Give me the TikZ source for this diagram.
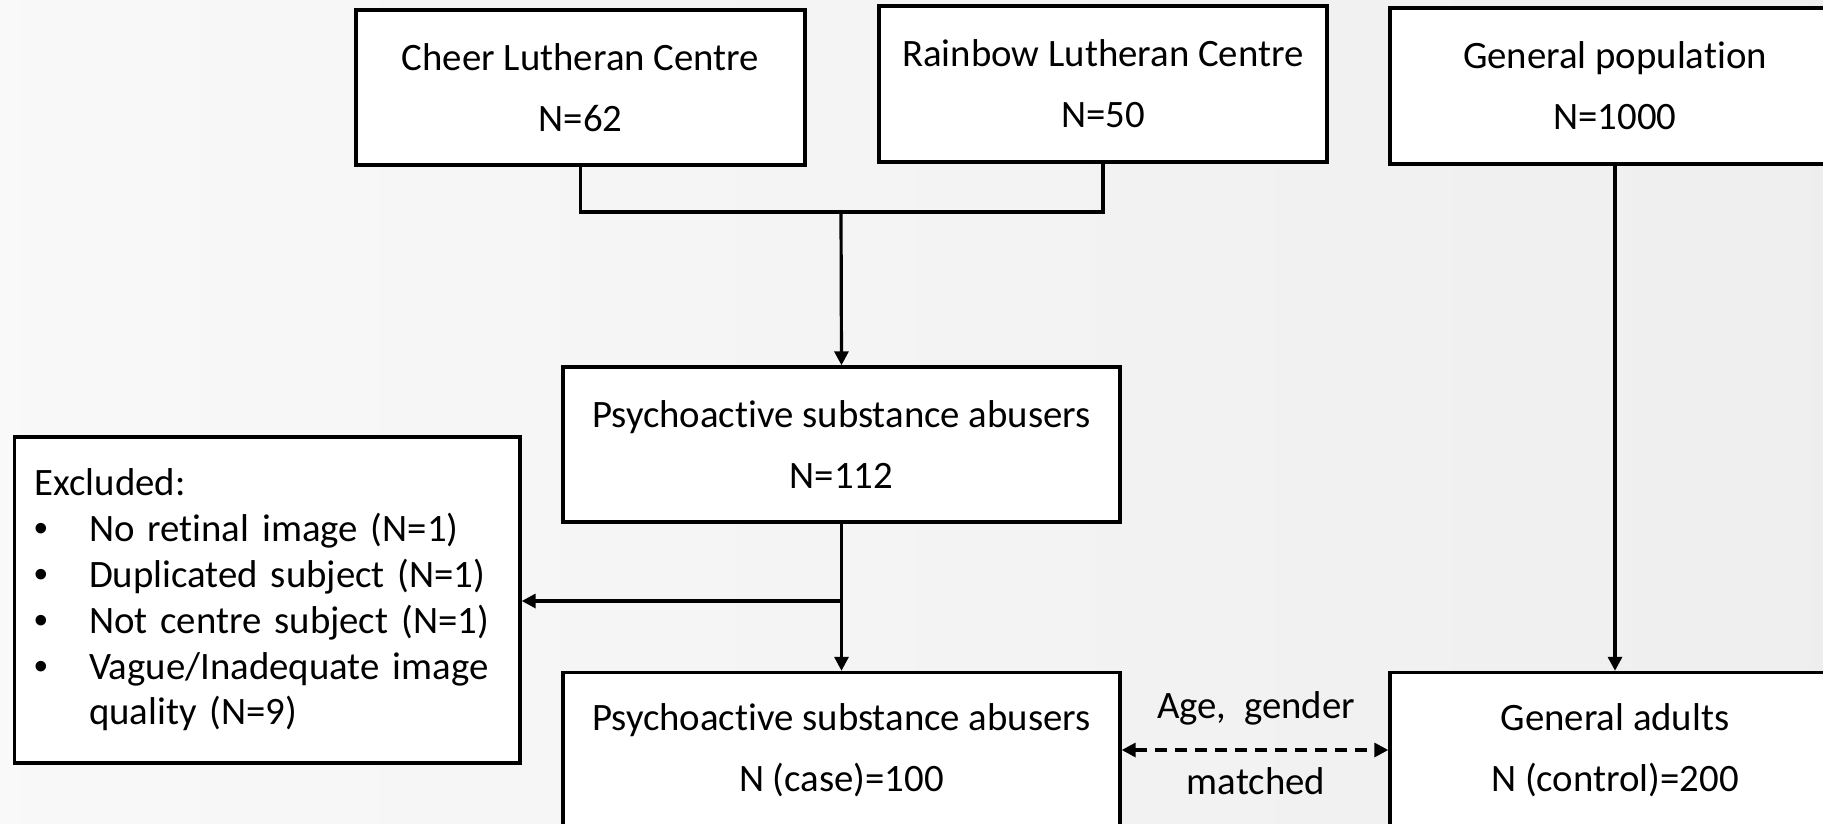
\documentclass[tikz,border=0pt]{standalone}
\usepackage{fontspec}
\setmainfont{Carlito}[Ligatures=NoCommon]
\newfontfamily\bulletfont{Liberation Sans}
\usetikzlibrary{arrows.meta}
\newcommand\bitem{\makebox[54.5pt][l]{{\bulletfont •}}}
\begin{document}
\begin{tikzpicture}[x=1pt,y=-1pt,
  box/.style={draw=black, line width=3.4pt, fill=white, align=center, inner sep=0pt,
    font=\fontsize{38.8}{61}\selectfont},
  conn/.style={line width=3.2pt, draw=black},
  tip/.style={-{Triangle[width=14pt,length=14pt]}},
  lbl/.style={inner sep=0pt, font=\fontsize{38.8}{46}\selectfont},
]
\useasboundingbox (0,0) rectangle (1823,823);
\shade[left color=gray!5, right color=gray!13] (0,0) rectangle (1823,823);

\node[box, minimum width=449pt, minimum height=155pt] (cheer) at (580.5,87.5) {Cheer Lutheran Centre\\N=62};
\node[box, minimum width=448pt, minimum height=156pt] (rainbow) at (1103,84) {Rainbow Lutheran Centre\\N=50};
\node[box, minimum width=450pt, minimum height=156pt] (genpop) at (1615,86) {General population\\N=1000};
\node[box, minimum width=557pt, minimum height=155pt] (psy1) at (841.5,444.5) {Psychoactive substance abusers\\N=112};
\node[box, minimum width=557pt, minimum height=155pt] (psy2) at (841.5,750) {Psychoactive substance abusers\\N (case)=100};
\node[box, minimum width=450pt, minimum height=155pt] (ga) at (1615,750) {General adults\\N (control)=200};
\node[box, align=left, inner xsep=20pt, text width=465.5pt, minimum height=326pt,
  font=\fontsize{38.8}{45.8}\selectfont] (excl) at (267.25,600)
  {Excluded:\\
   \bitem No retinal image (N=1)\\
   \bitem Duplicated subject (N=1)\\
   \bitem Not centre subject (N=1)\\
   \bitem Vague/Inadequate image\\
   \hspace*{54.5pt}quality (N=9)};

\coordinate (j) at (841,212);
\coordinate (k) at (841,601);

\draw[conn] (cheer.south) |- (j) -| (rainbow.south);
\draw[conn, tip] (j) -- (psy1.north);
\draw[conn, tip] (psy1.south) -- (psy2.north);
\draw[conn, tip] (k) -- (k -| excl.east);
\draw[conn, tip] (genpop.south) -- (ga.north);
\draw[conn, dash pattern=on 12pt off 8pt,
  {Triangle[width=14pt,length=14pt]}-{Triangle[width=14pt,length=14pt]}] (psy2.east) -- (ga.west);

\node[lbl] (age) at (1256,708) {Age,\ \ gender};
\node[lbl] (matched) at (1256,781) {matched};
\end{tikzpicture}
\end{document}
